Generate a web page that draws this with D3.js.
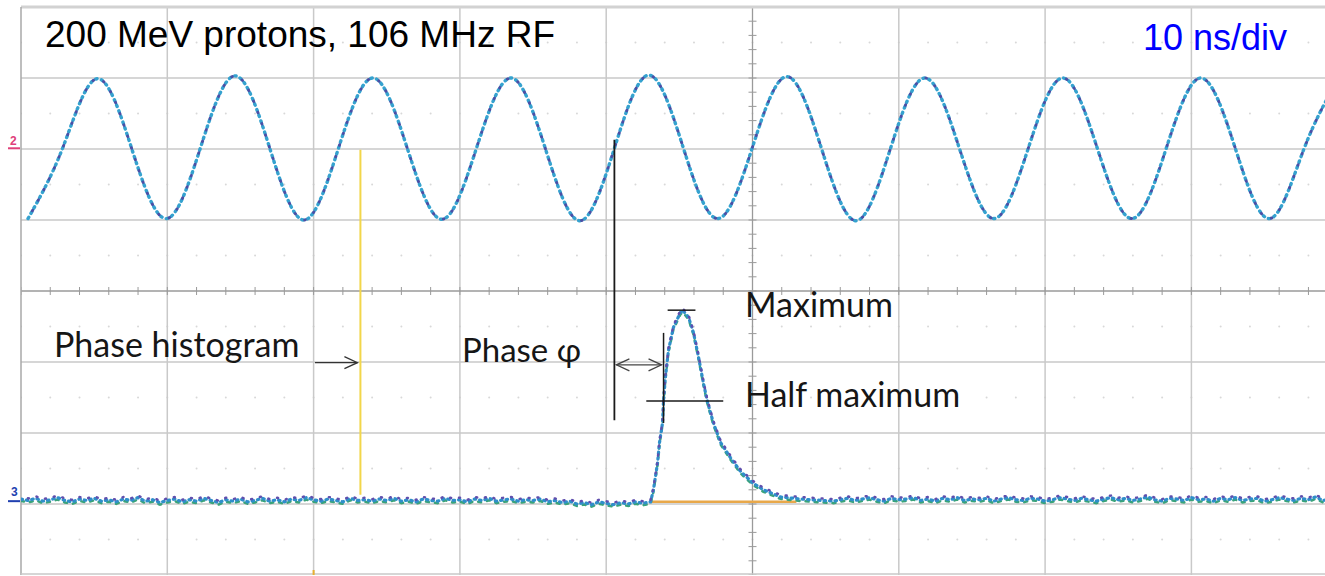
<!DOCTYPE html>
<html>
<head>
<meta charset="utf-8">
<script src="https://cdn.jsdelivr.net/npm/d3@7"></script>
<style>
    body { margin: 0; background: #fff; }
    svg { display: block; }
</style>
</head>
<body>
<div id="scope"></div>
<script>
// screen grid: 10 ns per horizontal division, 8 vertical divisions
const timeDivs = [-50, -40, -30, -20, -10, 0, 10, 20, 30, 40, 50];
const voltDivs = [-4, -3, -2, -1, 0, 1, 2, 3, 4];

// channel 2: 106 MHz RF (ns, divisions)
const rfTimes = [-49.52, -47.16, -44.80, -42.44, -40.08, -37.73, -35.37, -33.01, -30.66, -28.30,
    -25.94, -23.58, -21.23, -18.87, -16.51, -14.15, -11.80, -9.44, -7.08, -4.72,
    -2.37, -0.01, 2.35, 4.71, 7.07, 9.42, 11.78, 14.14, 16.50, 18.85,
    21.21, 23.57, 25.93, 28.28, 30.64, 33.00, 35.36, 37.71, 40.07];
const rfVolts = [1.02, 2.01, 2.99, 2.01, 1.02, 2.02, 3.03, 2.02, 1.00, 2.01,
    3.00, 2.00, 1.01, 2.01, 3.00, 2.00, 0.99, 2.01, 3.04, 2.01,
    1.02, 2.02, 3.02, 2.01, 0.99, 2.00, 3.00, 2.01, 1.02, 2.01,
    3.00, 2.01, 1.02, 2.01, 3.00, 2.01, 1.02, 2.01, 3.00];

// channel 3: bunch signal. baseline before the pulse, every 0.5 ns from -50 ns
const baseBefore = [
    -2.93, -2.95, -2.92, -2.96, -2.94, -2.91, -2.95, -2.97, -2.93, -2.95,
    -2.92, -2.96, -2.94, -2.97, -2.93, -2.95, -2.91, -2.96, -2.94, -2.98,
    -2.95, -2.93, -2.97, -2.94, -2.96, -2.92, -2.95, -2.98, -2.94, -2.96,
    -2.93, -2.97, -2.95, -2.92, -2.96, -2.94, -2.97, -2.93, -2.95, -2.91,
    -2.94, -2.96, -2.93, -2.95, -2.97, -2.92, -2.95, -2.94, -2.96, -2.93,
    -2.95, -2.92, -2.96, -2.94, -2.97, -2.93, -2.95, -2.96, -2.92, -2.95,
    -2.94, -2.97, -2.93, -2.95, -2.92, -2.96, -2.94, -2.93, -2.96, -2.94,
    -2.95, -2.93, -2.97, -2.95, -2.98, -2.96, -3.00, -2.98, -3.01, -2.97,
    -2.99, -3.01, -2.98, -3.00, -2.97, -2.99];
const pulseTimes = [-6.97, -6.77, -6.49, -6.36, -6.15, -6.08, -5.95, -5.74, -5.40, -4.92,
    -4.78, -4.37, -4.03, -3.69, -3.35, -3.08, -2.67, -2.19, -1.50, -0.82,
    0.00, 0.75, 1.91, 3.28, 5.54];
const pulseVolts = [-2.97, -2.80, -2.42, -2.14, -1.86, -1.54, -1.21, -0.83, -0.51, -0.30,
    -0.27, -0.37, -0.59, -0.93, -1.30, -1.56, -1.86, -2.13, -2.35, -2.54,
    -2.70, -2.80, -2.90, -2.93, -2.96];
// baseline after the pulse, every 0.5 ns from 6 ns
const baseAfter = [
    -2.94, -2.92, -2.95, -2.93, -2.91, -2.94, -2.96, -2.92, -2.94, -2.93,
    -2.91, -2.95, -2.93, -2.96, -2.92, -2.94, -2.91, -2.95, -2.93, -2.94,
    -2.92, -2.96, -2.93, -2.91, -2.94, -2.95, -2.92, -2.93, -2.96, -2.94,
    -2.91, -2.93, -2.95, -2.92, -2.94, -2.96, -2.93, -2.91, -2.94, -2.92,
    -2.95, -2.93, -2.90, -2.94, -2.96, -2.92, -2.93, -2.95, -2.91, -2.94,
    -2.93, -2.96, -2.92, -2.94, -2.91, -2.95, -2.93, -2.92, -2.96, -2.94,
    -2.91, -2.93, -2.95, -2.92, -2.94, -2.90, -2.95, -2.93];

// markers drawn over the screen (ns, divisions)
const histogramTime = -26.8;
const phaseRefTime = -9.44;
const halfRiseTime = -6.08;
const maxLevel = -0.27;
const halfLevel = -1.55;

const width = 1325, height = 576;
const svg = d3.select('#scope').append('svg')
    .attr('width', width)
    .attr('height', height);

const x = d3.scaleLinear().domain([-50, 50]).range([21, 1484]);
const y = d3.scaleLinear().domain([-4, 4]).range([575, 7]);

svg.append('defs').append('clipPath').attr('id', 'screen')
    .append('rect')
    .attr('x', x(-50)).attr('y', y(4))
    .attr('width', width - x(-50)).attr('height', y(-4) - y(4));

const grid = svg.append('g').attr('clip-path', 'url(#screen)');

// faint dotted sub grid at half divisions
const halfRows = d3.range(-3.5, 4, 1);
const minorCols = d3.range(-50, 50.1, 2);
halfRows.forEach(function (v) {
    grid.append('g').selectAll('circle')
        .data(minorCols)
        .join('circle')
        .attr('cx', d => x(d))
        .attr('cy', y(v))
        .attr('r', 1)
        .attr('fill', '#d8d8d8');
});

grid.append('g').selectAll('line')
    .data(timeDivs.filter(d => d !== 0 && d !== -50))
    .join('line')
    .attr('x1', d => x(d)).attr('x2', d => x(d))
    .attr('y1', y(4)).attr('y2', y(-4))
    .attr('stroke', '#c9c9c9')
    .attr('stroke-width', 1.5);

grid.append('g').selectAll('line')
    .data(voltDivs.filter(d => d !== 0 && Math.abs(d) !== 4))
    .join('line')
    .attr('x1', x(-50)).attr('x2', width)
    .attr('y1', d => y(d)).attr('y2', d => y(d))
    .attr('stroke', '#c9c9c9')
    .attr('stroke-width', 1.5);

// centre lines with their minor ticks
grid.append('line')
    .attr('x1', x(-50)).attr('x2', width)
    .attr('y1', y(0)).attr('y2', y(0))
    .attr('stroke', '#9a9a9a').attr('stroke-width', 1.3);
grid.append('line')
    .attr('x1', x(0)).attr('x2', x(0))
    .attr('y1', y(4)).attr('y2', y(-4))
    .attr('stroke', '#9a9a9a').attr('stroke-width', 1.3);

grid.append('g').selectAll('line')
    .data(minorCols)
    .join('line')
    .attr('x1', d => x(d)).attr('x2', d => x(d))
    .attr('y1', y(0) - 4).attr('y2', y(0) + 4)
    .attr('stroke', '#9a9a9a');
grid.append('g').selectAll('line')
    .data(d3.range(-4, 4.01, 0.2))
    .join('line')
    .attr('x1', x(0) - 4).attr('x2', x(0) + 4)
    .attr('y1', d => y(d)).attr('y2', d => y(d))
    .attr('stroke', '#9a9a9a');

// screen frame
svg.append('line')
    .attr('x1', x(-50)).attr('x2', width)
    .attr('y1', y(4)).attr('y2', y(4))
    .attr('stroke', '#d2d2d2').attr('stroke-width', 3);
svg.append('line')
    .attr('x1', x(-50)).attr('x2', x(-50))
    .attr('y1', y(4)).attr('y2', y(-4))
    .attr('stroke', '#a8a8a8').attr('stroke-width', 1.5);
svg.append('line')
    .attr('x1', x(-50)).attr('x2', width)
    .attr('y1', y(-4) - 1).attr('y2', y(-4) - 1)
    .attr('stroke', '#c8c8c8').attr('stroke-width', 1.5);
svg.append('line')
    .attr('x1', x(-30)).attr('x2', x(-30))
    .attr('y1', y(-4) - 5).attr('y2', y(-4))
    .attr('stroke', '#e8b030').attr('stroke-width', 2);

const traces = svg.append('g').attr('clip-path', 'url(#screen)');

// histogram window (yellow) and its zero line (orange)
traces.append('line')
    .attr('x1', x(histogramTime)).attr('x2', x(histogramTime))
    .attr('y1', y(1.99)).attr('y2', y(-2.87))
    .attr('stroke', '#f2d64a').attr('stroke-width', 2);
traces.append('line')
    .attr('x1', x(-6.97)).attr('x2', x(3))
    .attr('y1', y(-2.97)).attr('y2', y(-2.97))
    .attr('stroke', '#e8a84a').attr('stroke-width', 2.5);

// RF trace, drawn as sampled dots in two persistence colours
const rfData = rfTimes.map((t, i) => [t, rfVolts[i]]);
const rfLine = d3.line()
    .x(d => x(d[0]))
    .y(d => y(d[1]))
    .curve(d3.curveNatural);

traces.append('path')
    .datum(rfData)
    .attr('d', rfLine)
    .attr('fill', 'none')
    .attr('stroke', '#35a2cf')
    .attr('stroke-width', 3.4)
    .attr('stroke-linecap', 'round')
    .attr('stroke-dasharray', '1.5 4.5');
traces.append('path')
    .datum(rfData)
    .attr('d', rfLine)
    .attr('fill', 'none')
    .attr('stroke', '#4a50a6')
    .attr('stroke-width', 3)
    .attr('stroke-linecap', 'round')
    .attr('stroke-dasharray', '0.5 11.5')
    .attr('stroke-dashoffset', 3);

// bunch signal trace
const beamData = baseBefore.map((v, i) => [-50 + i * 0.5, v])
    .concat(pulseTimes.map((t, i) => [t, pulseVolts[i]]))
    .concat(baseAfter.map((v, i) => [6 + i * 0.5, v]));
const beamLine = d3.line()
    .x(d => x(d[0]))
    .y(d => y(d[1]))
    .curve(d3.curveLinear);

traces.append('path')
    .datum(beamData)
    .attr('d', beamLine)
    .attr('transform', 'translate(0,2)')
    .attr('fill', 'none')
    .attr('stroke', '#3aa37a')
    .attr('stroke-width', 2.5)
    .attr('stroke-linecap', 'round')
    .attr('stroke-dasharray', '3 6');
traces.append('path')
    .datum(beamData)
    .attr('d', beamLine)
    .attr('fill', 'none')
    .attr('stroke', '#2f8fca')
    .attr('stroke-width', 3.2)
    .attr('stroke-linecap', 'round')
    .attr('stroke-dasharray', '1.5 4');
traces.append('path')
    .datum(beamData)
    .attr('d', beamLine)
    .attr('transform', 'translate(0,-2)')
    .attr('fill', 'none')
    .attr('stroke', '#5f4fae')
    .attr('stroke-width', 2.5)
    .attr('stroke-linecap', 'round')
    .attr('stroke-dasharray', '1 8')
    .attr('stroke-dashoffset', 2);

// channel markers on the left edge
svg.append('text')
    .attr('x', 10).attr('y', y(2.01) - 3)
    .attr('font-family', 'Liberation Sans, Arial, sans-serif')
    .attr('font-size', 12).attr('font-weight', 'bold')
    .attr('fill', '#e0407a').text('2');
svg.append('line')
    .attr('x1', 8).attr('x2', 20)
    .attr('y1', y(2.01)).attr('y2', y(2.01))
    .attr('stroke', '#e0407a').attr('stroke-width', 2);
svg.append('text')
    .attr('x', 11).attr('y', y(-2.9) - 1)
    .attr('font-family', 'Liberation Sans, Arial, sans-serif')
    .attr('font-size', 12).attr('font-weight', 'bold')
    .attr('fill', '#2040b0').text('3');
svg.append('line')
    .attr('x1', 8).attr('x2', 20)
    .attr('y1', y(-2.96)).attr('y2', y(-2.96))
    .attr('stroke', '#2040b0').attr('stroke-width', 2);

// annotation lines
const ann = svg.append('g')
    .attr('stroke', '#1a1a1a')
    .attr('fill', 'none');

ann.append('line')
    .attr('x1', x(phaseRefTime)).attr('x2', x(phaseRefTime))
    .attr('y1', y(2.13)).attr('y2', y(-1.82))
    .attr('stroke-width', 1.8);
ann.append('line')
    .attr('x1', x(halfRiseTime)).attr('x2', x(halfRiseTime))
    .attr('y1', y(-0.59)).attr('y2', y(-1.86))
    .attr('stroke-width', 1.5);
ann.append('line')
    .attr('x1', x(-5.8)).attr('x2', x(-3.9))
    .attr('y1', y(maxLevel)).attr('y2', y(maxLevel))
    .attr('stroke-width', 1.5);
ann.append('line')
    .attr('x1', x(-7.26)).attr('x2', x(-2.0))
    .attr('y1', y(halfLevel)).attr('y2', y(halfLevel))
    .attr('stroke-width', 1.5);

// phase double arrow
const arrowY = y(-1.04);
ann.append('line')
    .attr('x1', x(phaseRefTime) + 2).attr('x2', x(halfRiseTime) - 2)
    .attr('y1', arrowY).attr('y2', arrowY)
    .attr('stroke', '#444').attr('stroke-width', 1.3);
ann.append('path')
    .attr('d', `M${x(phaseRefTime) + 15},${arrowY - 6} L${x(phaseRefTime) + 2},${arrowY} L${x(phaseRefTime) + 15},${arrowY + 6}`)
    .attr('stroke', '#444').attr('stroke-width', 1.3);
ann.append('path')
    .attr('d', `M${x(halfRiseTime) - 15},${arrowY - 6} L${x(halfRiseTime) - 2},${arrowY} L${x(halfRiseTime) - 15},${arrowY + 6}`)
    .attr('stroke', '#444').attr('stroke-width', 1.3);

// histogram arrow
const hArrowY = y(-1.01);
ann.append('line')
    .attr('x1', 315).attr('x2', x(histogramTime) - 3)
    .attr('y1', hArrowY).attr('y2', hArrowY)
    .attr('stroke', '#333').attr('stroke-width', 1.3);
ann.append('path')
    .attr('d', `M${x(histogramTime) - 16},${hArrowY - 6} L${x(histogramTime) - 3},${hArrowY} L${x(histogramTime) - 16},${hArrowY + 6}`)
    .attr('stroke', '#333').attr('stroke-width', 1.3);

// labels
const note = 'Lato, "Open Sans", "DejaVu Sans", sans-serif';
function label(tx, ty, s, size) {
    svg.append('text')
        .attr('x', tx).attr('y', ty)
        .attr('font-family', note)
        .attr('font-size', size)
        .attr('fill', '#161616')
        .text(s);
}
label(54, 357, 'Phase histogram', 34);
label(462, 362, 'Phase φ', 33);
label(745, 317, 'Maximum', 34);
label(745, 407, 'Half maximum', 34);

svg.append('text')
    .attr('x', 45).attr('y', 47)
    .attr('font-family', '"Liberation Sans", Arial, sans-serif')
    .attr('font-size', 37)
    .attr('fill', '#000')
    .text('200 MeV protons, 106 MHz RF');

svg.append('text')
    .attr('x', 1287).attr('y', 50)
    .attr('text-anchor', 'end')
    .attr('font-family', '"Liberation Sans", Arial, sans-serif')
    .attr('font-size', 36)
    .attr('fill', '#0000ff')
    .text('10 ns/div');
</script>
</body>
</html>
